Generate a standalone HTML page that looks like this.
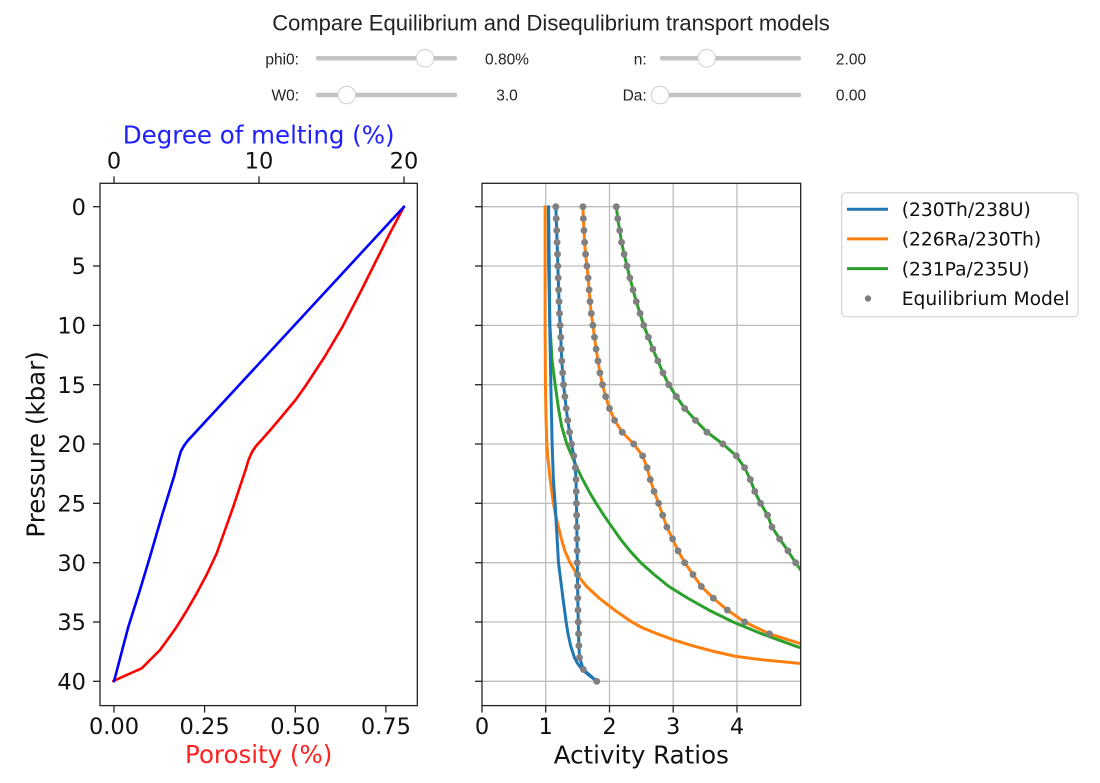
<!DOCTYPE html>
<html><head><meta charset="utf-8">
<style>
html,body{margin:0;padding:0;background:#fff;}
svg{display:block;}
.ui{font-family:"Liberation Sans",Arial,sans-serif;fill:#222;}
.mp{font-family:"DejaVu Sans","Liberation Sans",sans-serif;fill:#111;}
</style></head>
<body>
<svg width="1100" height="783" viewBox="0 0 1100 783" xmlns="http://www.w3.org/2000/svg">
<defs>
<clipPath id="clipR"><rect x="482" y="183.3" width="318.7" height="522.3"/></clipPath>
<clipPath id="clipL"><rect x="100" y="183.3" width="317.3" height="522.3"/></clipPath>
<ellipse id="d" cx="0" cy="0" rx="0.054" ry="0.29" fill="#808080"/>
</defs>

<!-- Title -->
<text class="ui" x="551" y="30.7" font-size="22" text-anchor="middle">Compare Equilibrium and Disequlibrium transport models</text>

<!-- Sliders -->
<g class="ui" font-size="15.5">
<text x="299" y="64.5" text-anchor="end">phi0:</text>
<text x="507" y="64.5" text-anchor="middle">0.80%</text>
<text x="646.7" y="64.5" text-anchor="end">n:</text>
<text x="851" y="64.5" text-anchor="middle">2.00</text>
<text x="299" y="100.5" text-anchor="end">W0:</text>
<text x="507" y="100.5" text-anchor="middle">3.0</text>
<text x="646.7" y="100.5" text-anchor="end">Da:</text>
<text x="851" y="100.5" text-anchor="middle">0.00</text>
</g>
<g stroke="#c2c2c2" stroke-width="4.5" stroke-linecap="round">
<line x1="318" y1="58.3" x2="455" y2="58.3"/>
<line x1="318" y1="95" x2="455" y2="95"/>
<line x1="662" y1="58.3" x2="799" y2="58.3"/>
<line x1="662" y1="95" x2="799" y2="95"/>
</g>
<g fill="#fff" stroke="#cfcfcf" stroke-width="1">
<circle cx="425" cy="58.3" r="8.8"/>
<circle cx="346.7" cy="95" r="8.8"/>
<circle cx="706.7" cy="58.3" r="8.8"/>
<circle cx="660" cy="95" r="8.8"/>
</g>

<!-- ============ LEFT PLOT ============ -->
<g clip-path="url(#clipL)" fill="none" stroke-linejoin="round" stroke-linecap="round">
<polyline stroke="#ff0000" stroke-width="2.6" points="404,206.7 390,233 376.5,260 360,293 342.5,326.7 324.5,357 305.5,386 295.5,400 280.5,418 269.5,431 261.5,440 256,446 252,452 248.5,460 245.5,470 239.5,488 233.3,506.7 225,530 216.7,553.3 207,574 196.7,593.3 186.5,611 176.7,626.7 168,639 160,650 150,660 141.7,668.3 113.3,681"/>
<g transform="matrix(14.5 0 0 11.865 114 206.7)">
<polyline vector-effect="non-scaling-stroke" stroke="#0000ff" stroke-width="2.6" points="20,0 5.1,19.7 4.85,20.1 4.62,20.6 4.45,21.3 4.3,22 4.15,22.7 3.29,26.1 2.48,29.5 1.79,32.3 0.99,35.4 0,40"/>
</g>
</g>
<rect x="100" y="183.3" width="317.3" height="522.3" fill="none" stroke="#222" stroke-width="1.3"/>
<g stroke="#222" stroke-width="1.3">
<line x1="93" y1="206.7" x2="100" y2="206.7"/>
<line x1="93" y1="266" x2="100" y2="266"/>
<line x1="93" y1="325.4" x2="100" y2="325.4"/>
<line x1="93" y1="384.7" x2="100" y2="384.7"/>
<line x1="93" y1="444" x2="100" y2="444"/>
<line x1="93" y1="503.3" x2="100" y2="503.3"/>
<line x1="93" y1="562.7" x2="100" y2="562.7"/>
<line x1="93" y1="622" x2="100" y2="622"/>
<line x1="93" y1="681.3" x2="100" y2="681.3"/>
<line x1="114" y1="176.3" x2="114" y2="183.3"/>
<line x1="259" y1="176.3" x2="259" y2="183.3"/>
<line x1="404" y1="176.3" x2="404" y2="183.3"/>
<line x1="114" y1="705.6" x2="114" y2="712.6"/>
<line x1="204.6" y1="705.6" x2="204.6" y2="712.6"/>
<line x1="295.3" y1="705.6" x2="295.3" y2="712.6"/>
<line x1="385.9" y1="705.6" x2="385.9" y2="712.6"/>
</g>
<g class="mp" font-size="22.5" text-anchor="end">
<text x="86" y="214.9">0</text>
<text x="86" y="274.2">5</text>
<text x="86" y="333.6">10</text>
<text x="86" y="392.9">15</text>
<text x="86" y="452.2">20</text>
<text x="86" y="511.5">25</text>
<text x="86" y="570.9">30</text>
<text x="86" y="630.2">35</text>
<text x="86" y="689.5">40</text>
</g>
<g class="mp" font-size="22.5" text-anchor="middle">
<text x="114" y="168.5">0</text>
<text x="259" y="168.5">10</text>
<text x="404" y="168.5">20</text>
<text x="114" y="734">0.00</text>
<text x="204.6" y="734">0.25</text>
<text x="295.3" y="734">0.50</text>
<text x="385.9" y="734">0.75</text>
</g>
<text class="mp" x="258.7" y="143.3" font-size="24.5" text-anchor="middle" style="fill:#2020ff">Degree of melting (%)</text>
<text class="mp" x="258.7" y="763" font-size="24.5" text-anchor="middle" style="fill:#ff2020">Porosity (%)</text>
<text class="mp" font-size="24.5" text-anchor="middle" transform="translate(44.6,444.4) rotate(-90)">Pressure (kbar)</text>

<!-- ============ RIGHT PLOT ============ -->
<g stroke="#bdbdbd" stroke-width="1.3">
<line x1="545.7" y1="183.3" x2="545.7" y2="705.6"/>
<line x1="609.5" y1="183.3" x2="609.5" y2="705.6"/>
<line x1="673.2" y1="183.3" x2="673.2" y2="705.6"/>
<line x1="737" y1="183.3" x2="737" y2="705.6"/>
<line x1="482" y1="206.7" x2="800.7" y2="206.7"/>
<line x1="482" y1="266" x2="800.7" y2="266"/>
<line x1="482" y1="325.4" x2="800.7" y2="325.4"/>
<line x1="482" y1="384.7" x2="800.7" y2="384.7"/>
<line x1="482" y1="444" x2="800.7" y2="444"/>
<line x1="482" y1="503.3" x2="800.7" y2="503.3"/>
<line x1="482" y1="562.7" x2="800.7" y2="562.7"/>
<line x1="482" y1="622" x2="800.7" y2="622"/>
<line x1="482" y1="681.3" x2="800.7" y2="681.3"/>
</g>
<g clip-path="url(#clipR)">
<g transform="matrix(63.74 0 0 11.865 482 206.7)" fill="none" stroke-width="3" stroke-linejoin="round" stroke-linecap="round">
<!-- disequilibrium lines -->
<polyline vector-effect="non-scaling-stroke" stroke="#ff7f0e" points="0.99,0 0.99,10 0.995,15 1.005,18 1.017,20 1.03,21 1.05,22 1.07,23 1.095,24 1.12,25 1.155,26 1.2,27 1.245,28 1.3,29 1.38,30 1.49,31 1.64,32 1.84,33 2.08,34 2.35,35 2.52,35.5 2.75,36 3.0,36.5 3.3,37 3.65,37.5 3.98,37.9 4.42,38.2 5.0,38.5 5.3,38.6"/>
<polyline vector-effect="non-scaling-stroke" stroke="#2ca02c" points="1.04,0 1.045,5 1.065,10 1.1,13 1.148,15 1.2,17 1.25,18.5 1.33,20 1.41,21 1.49,22 1.58,23 1.68,24 1.79,25 1.91,26 2.04,27 2.17,28 2.32,29 2.49,30 2.7,31 2.93,32 3.23,33 3.56,34 3.94,35 4.39,36 4.9,37 5.18,37.5"/>
<polyline vector-effect="non-scaling-stroke" stroke="#1f77b4" points="1.045,0 1.055,5 1.063,10 1.08,15 1.1,20 1.12,23 1.147,25 1.2,30 1.27,33 1.32,35 1.35,36 1.39,37 1.45,38 1.5,38.5 1.57,39 1.68,39.5 1.8,40"/>
<!-- equilibrium lines -->
<polyline vector-effect="non-scaling-stroke" stroke="#1f77b4" points="1.158,0 1.165,1 1.172,2 1.178,3 1.185,4 1.19,5 1.196,6 1.202,7 1.208,8 1.216,9 1.226,10 1.236,11 1.243,12 1.252,13 1.265,14 1.279,15 1.3,16 1.321,17 1.345,18 1.373,19 1.405,20 1.44,21 1.465,22 1.475,23 1.478,24 1.482,25 1.485,26 1.488,27 1.49,28 1.493,29 1.495,30 1.498,31 1.5,32 1.503,33 1.506,34 1.51,35 1.515,36 1.52,37 1.53,38 1.59,39 1.8,40"/>
<polyline vector-effect="non-scaling-stroke" stroke="#ff7f0e" points="1.583,0 1.59,1 1.6,2 1.61,3 1.625,4 1.646,5 1.665,6 1.68,7 1.695,8 1.715,9 1.74,10 1.765,11 1.79,12 1.82,13 1.85,14 1.89,15 1.94,16 2,17 2.08,18 2.2,19 2.38,20 2.52,21 2.59,22 2.64,23 2.7,24 2.77,25 2.835,26 2.9,27 2.99,28 3.076,29 3.18,30 3.31,31 3.44,32 3.63,33 3.85,34 4.12,35 4.51,36 5.1,37"/>
<polyline vector-effect="non-scaling-stroke" stroke="#2ca02c" points="2.107,0 2.13,1 2.16,2 2.19,3 2.23,4 2.274,5 2.32,6 2.37,7 2.42,8 2.48,9 2.537,10 2.61,11 2.68,12 2.76,13 2.84,14 2.93,15 3.05,16 3.18,17 3.35,18 3.53,19 3.78,20 3.99,21 4.12,22 4.21,23 4.28,24 4.37,25 4.48,26 4.55,27 4.67,28 4.8,29 4.92,30 5.05,31"/>
<!-- equilibrium dots -->
<g>
<use href="#d" x="1.158" y="0"/><use href="#d" x="1.165" y="1"/><use href="#d" x="1.172" y="2"/><use href="#d" x="1.178" y="3"/><use href="#d" x="1.185" y="4"/><use href="#d" x="1.19" y="5"/><use href="#d" x="1.196" y="6"/><use href="#d" x="1.202" y="7"/><use href="#d" x="1.208" y="8"/><use href="#d" x="1.216" y="9"/><use href="#d" x="1.226" y="10"/><use href="#d" x="1.236" y="11"/><use href="#d" x="1.243" y="12"/><use href="#d" x="1.252" y="13"/><use href="#d" x="1.265" y="14"/><use href="#d" x="1.279" y="15"/><use href="#d" x="1.3" y="16"/><use href="#d" x="1.321" y="17"/><use href="#d" x="1.345" y="18"/><use href="#d" x="1.373" y="19"/><use href="#d" x="1.405" y="20"/><use href="#d" x="1.44" y="21"/><use href="#d" x="1.465" y="22"/><use href="#d" x="1.475" y="23"/><use href="#d" x="1.478" y="24"/><use href="#d" x="1.482" y="25"/><use href="#d" x="1.485" y="26"/><use href="#d" x="1.488" y="27"/><use href="#d" x="1.49" y="28"/><use href="#d" x="1.493" y="29"/><use href="#d" x="1.495" y="30"/><use href="#d" x="1.498" y="31"/><use href="#d" x="1.5" y="32"/><use href="#d" x="1.503" y="33"/><use href="#d" x="1.506" y="34"/><use href="#d" x="1.51" y="35"/><use href="#d" x="1.515" y="36"/><use href="#d" x="1.52" y="37"/><use href="#d" x="1.53" y="38"/><use href="#d" x="1.59" y="39"/><use href="#d" x="1.8" y="40"/>
<use href="#d" x="1.583" y="0"/><use href="#d" x="1.59" y="1"/><use href="#d" x="1.6" y="2"/><use href="#d" x="1.61" y="3"/><use href="#d" x="1.625" y="4"/><use href="#d" x="1.646" y="5"/><use href="#d" x="1.665" y="6"/><use href="#d" x="1.68" y="7"/><use href="#d" x="1.695" y="8"/><use href="#d" x="1.715" y="9"/><use href="#d" x="1.74" y="10"/><use href="#d" x="1.765" y="11"/><use href="#d" x="1.79" y="12"/><use href="#d" x="1.82" y="13"/><use href="#d" x="1.85" y="14"/><use href="#d" x="1.89" y="15"/><use href="#d" x="1.94" y="16"/><use href="#d" x="2" y="17"/><use href="#d" x="2.08" y="18"/><use href="#d" x="2.2" y="19"/><use href="#d" x="2.38" y="20"/><use href="#d" x="2.52" y="21"/><use href="#d" x="2.59" y="22"/><use href="#d" x="2.64" y="23"/><use href="#d" x="2.7" y="24"/><use href="#d" x="2.77" y="25"/><use href="#d" x="2.835" y="26"/><use href="#d" x="2.9" y="27"/><use href="#d" x="2.99" y="28"/><use href="#d" x="3.076" y="29"/><use href="#d" x="3.18" y="30"/><use href="#d" x="3.31" y="31"/><use href="#d" x="3.44" y="32"/><use href="#d" x="3.63" y="33"/><use href="#d" x="3.85" y="34"/><use href="#d" x="4.12" y="35"/><use href="#d" x="4.51" y="36"/>
<use href="#d" x="2.107" y="0"/><use href="#d" x="2.13" y="1"/><use href="#d" x="2.16" y="2"/><use href="#d" x="2.19" y="3"/><use href="#d" x="2.23" y="4"/><use href="#d" x="2.274" y="5"/><use href="#d" x="2.32" y="6"/><use href="#d" x="2.37" y="7"/><use href="#d" x="2.42" y="8"/><use href="#d" x="2.48" y="9"/><use href="#d" x="2.537" y="10"/><use href="#d" x="2.61" y="11"/><use href="#d" x="2.68" y="12"/><use href="#d" x="2.76" y="13"/><use href="#d" x="2.84" y="14"/><use href="#d" x="2.93" y="15"/><use href="#d" x="3.05" y="16"/><use href="#d" x="3.18" y="17"/><use href="#d" x="3.35" y="18"/><use href="#d" x="3.53" y="19"/><use href="#d" x="3.78" y="20"/><use href="#d" x="3.99" y="21"/><use href="#d" x="4.12" y="22"/><use href="#d" x="4.21" y="23"/><use href="#d" x="4.28" y="24"/><use href="#d" x="4.37" y="25"/><use href="#d" x="4.48" y="26"/><use href="#d" x="4.55" y="27"/><use href="#d" x="4.67" y="28"/><use href="#d" x="4.8" y="29"/><use href="#d" x="4.92" y="30"/>
</g>
</g>
</g>
<rect x="482" y="183.3" width="318.7" height="522.3" fill="none" stroke="#222" stroke-width="1.3"/>
<g stroke="#222" stroke-width="1.3">
<line x1="475" y1="206.7" x2="482" y2="206.7"/>
<line x1="475" y1="266" x2="482" y2="266"/>
<line x1="475" y1="325.4" x2="482" y2="325.4"/>
<line x1="475" y1="384.7" x2="482" y2="384.7"/>
<line x1="475" y1="444" x2="482" y2="444"/>
<line x1="475" y1="503.3" x2="482" y2="503.3"/>
<line x1="475" y1="562.7" x2="482" y2="562.7"/>
<line x1="475" y1="622" x2="482" y2="622"/>
<line x1="475" y1="681.3" x2="482" y2="681.3"/>
<line x1="482" y1="705.6" x2="482" y2="712.6"/>
<line x1="545.7" y1="705.6" x2="545.7" y2="712.6"/>
<line x1="609.5" y1="705.6" x2="609.5" y2="712.6"/>
<line x1="673.2" y1="705.6" x2="673.2" y2="712.6"/>
<line x1="737" y1="705.6" x2="737" y2="712.6"/>
</g>
<g class="mp" font-size="22.5" text-anchor="middle">
<text x="482" y="734">0</text>
<text x="545.7" y="734">1</text>
<text x="609.5" y="734">2</text>
<text x="673.2" y="734">3</text>
<text x="737" y="734">4</text>
</g>
<text class="mp" x="641.3" y="763.5" font-size="24.5" text-anchor="middle">Activity Ratios</text>

<!-- Legend -->
<rect x="841.7" y="192.7" width="236.3" height="124" rx="4" ry="4" fill="#fff" stroke="#d4d4d4" stroke-width="1.2"/>
<g stroke-width="3">
<line x1="847" y1="209.3" x2="888" y2="209.3" stroke="#1f77b4"/>
<line x1="847" y1="238.9" x2="888" y2="238.9" stroke="#ff7f0e"/>
<line x1="847" y1="268.6" x2="888" y2="268.6" stroke="#2ca02c"/>
</g>
<circle cx="868" cy="298.5" r="3.2" fill="#808080"/>
<g class="mp" font-size="18.7">
<text x="901.7" y="216">(230Th/238U)</text>
<text x="901.7" y="245.7">(226Ra/230Th)</text>
<text x="901.7" y="275.4">(231Pa/235U)</text>
<text x="901.7" y="305.2">Equilibrium Model</text>
</g>
</svg>
</body></html>
